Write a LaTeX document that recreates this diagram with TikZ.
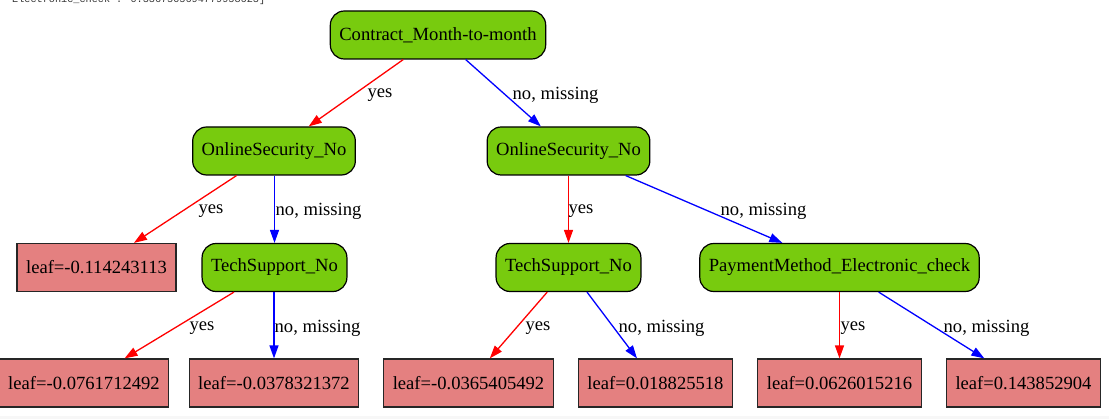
\documentclass[tikz,border=0pt]{standalone}
\usepackage{fontspec}
\setmainfont{Liberation Serif}
\newfontfamily\hdrmono{Liberation Mono}
\usetikzlibrary{arrows.meta}
\definecolor{condgreen}{RGB}{120,203,14}
\definecolor{leafred}{RGB}{228,128,128}
\tikzset{
  base/.style={draw=black, line width=1.2pt, minimum height=48pt, inner xsep=9pt, inner ysep=0pt,
    font=\fontsize{18.6}{22}\selectfont},
  cond/.style={base, fill=condgreen, rounded corners=14pt},
  leaf/.style={base, fill=leafred, draw=black!85},
  yesedge/.style={draw=red, line width=1.3pt, -{Triangle[length=13pt,width=9pt]}},
  noedge/.style={draw=blue, line width=1.3pt, -{Triangle[length=13pt,width=9pt]}},
  lbl/.style={anchor=west, inner sep=0pt, yshift=-3pt, font=\fontsize{18.6}{22}\selectfont, text=black},
}
\begin{document}
\begin{tikzpicture}[x=1pt, y=-1pt]
\useasboundingbox (0,0) rectangle (1109,419);
\fill[black!3] (0,416) rectangle (1109,419);
\node[anchor=base west, inner sep=0pt, font=\hdrmono\fontsize{10.2}{12}\selectfont, text=black!80] (hdr) at (12,3) {Electronic\_check : 0.3367505694779958623]};

\node[cond] (root) at (438,35) {Contract\_Month-to-month};
\node[cond] (osl) at (274,151) {OnlineSecurity\_No};
\node[cond] (osr) at (568.5,151) {OnlineSecurity\_No};
\node[leaf] (l1) at (96.5,267.5) {leaf=-0.114243113};
\node[cond] (tsl) at (274.5,267.5) {TechSupport\_No};
\node[cond] (tsr) at (568.5,267.5) {TechSupport\_No};
\node[cond] (pm) at (839.5,267.5) {PaymentMethod\_Electronic\_check};
\node[leaf] (l2) at (84,383) {leaf=-0.0761712492};
\node[leaf] (l3) at (274,383) {leaf=-0.0378321372};
\node[leaf] (l4) at (468.5,383) {leaf=-0.0365405492};
\node[leaf] (l5) at (655.5,383) {leaf=0.018825518};
\node[leaf] (l6) at (839.5,383) {leaf=0.0626015216};
\node[leaf] (l7) at (1023.5,383) {leaf=0.143852904};

\draw[yesedge] (root) -- (osl) node[lbl] at (367,92) {yes};
\draw[noedge] (root) -- (osr) node[lbl] at (512,92) {no, missing};
\draw[yesedge] (osl) -- (l1) node[lbl] at (198,208) {yes};
\draw[noedge] (osl.south -| tsl.north) -- (tsl.north) node[lbl] at (275,208) {no, missing};
\draw[yesedge] (osr.south -| tsr.north) -- (tsr.north) node[lbl] at (568,208) {yes};
\draw[noedge] (osr) -- (pm) node[lbl] at (720,208) {no, missing};
\draw[yesedge] (tsl) -- (l2) node[lbl] at (189,325) {yes};
\draw[noedge] (tsl.south -| l3.north) -- (l3.north) node[lbl] at (274,325) {no, missing};
\draw[yesedge] (tsr) -- (l4) node[lbl] at (525,325) {yes};
\draw[noedge] (tsr) -- (l5) node[lbl] at (618,325) {no, missing};
\draw[yesedge] (pm.south -| l6.north) -- (l6.north) node[lbl] at (840,325) {yes};
\draw[noedge] (pm) -- (l7) node[lbl] at (943,325) {no, missing};
\end{tikzpicture}
\end{document}
